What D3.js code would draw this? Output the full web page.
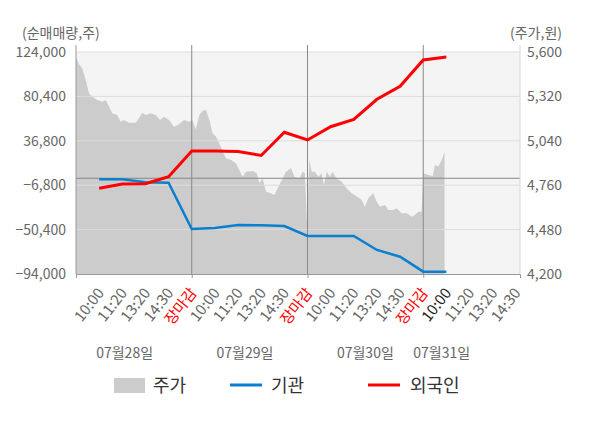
<!DOCTYPE html>
<html>
<head>
<meta charset="utf-8">
<script src="https://cdn.jsdelivr.net/npm/d3@7"></script>
<style>
  body { margin: 0; background: #fff; }
  svg { font-family: "Noto Sans CJK KR", "Noto Sans", sans-serif; }
</style>
</head>
<body>
<svg id="chart" width="600" height="428"></svg>
<script>
// slots per day on the category axis
const timeSlots = ['10:00', '11:20', '13:20', '14:30', '장마감'];
const days = ['07월28일', '07월29일', '07월30일', '07월31일'];

const leftTicks = [124000, 80400, 36800, -6800, -50400, -94000];
const rightTicks = [5600, 5320, 5040, 4760, 4480, 4200];

// net buying (shares), one value per slot from day 1 10:00
const institution = [-1000, -1000, -4000, -4300, -49800,
  -48800, -45900, -46200, -46900, -56700,
  -56700, -56700, -70400, -77000, -91700,
  -91700];
const foreign = [-9850, -5600, -5300, 1550, 26800,
  26800, 26300, 22400, 45150, 37600,
  50650, 57900, 77550, 90300, 116150,
  119100];

// stock price (won): slot position, price
const pricePos = [0, 0.13, 0.27, 0.42, 0.56, 0.70, 0.92, 1.14, 1.28, 1.43,
  1.57, 1.78, 1.93, 2.07, 2.29, 2.58, 2.72, 2.86, 3.01, 3.23,
  3.44, 3.63, 3.80, 4.02, 4.23, 4.41, 4.67, 4.88, 5.02, 5.17,
  5.33, 5.47, 5.62, 5.76, 5.90, 6.05, 6.19, 6.34, 6.48, 6.70,
  6.91, 7.05, 7.20, 7.34, 7.63, 7.81, 7.92, 8.06, 8.21, 8.42,
  8.57, 8.71, 8.93, 9.07, 9.29, 9.43, 9.65, 9.79, 9.89, 9.97,
  10.08, 10.18, 10.32, 10.47, 10.61, 10.71, 10.83, 10.97, 11.07, 11.26,
  11.48, 11.69, 11.91, 12.13, 12.34, 12.48, 12.63, 12.84, 12.99, 13.13,
  13.35, 13.49, 13.71, 13.85, 14.07, 14.29, 14.50, 14.64, 14.79, 14.93,
  15.00, 15.22, 15.41, 15.51, 15.65, 15.80, 15.92];
const priceVal = [5568, 5524, 5497, 5423, 5340, 5318, 5297, 5287, 5297, 5255,
  5213, 5203, 5160, 5171, 5154, 5154, 5182, 5217, 5203, 5213,
  5203, 5171, 5192, 5171, 5129, 5140, 5171, 5160, 5171, 5113,
  5203, 5230, 5234, 5171, 5087, 5066, 5024, 4971, 4930, 4919,
  4898, 4856, 4814, 4845, 4850, 4835, 4772, 4804, 4719, 4709,
  4698, 4740, 4804, 4845, 4867, 4814, 4804, 4845, 4835, 4530,
  4919, 4845, 4845, 4814, 4835, 4761, 4845, 4814, 4845, 4804,
  4782, 4740, 4709, 4688, 4667, 4624, 4677, 4709, 4656, 4624,
  4635, 4604, 4604, 4614, 4583, 4583, 4561, 4572, 4593, 4593,
  4835, 4824, 4818, 4887, 4877, 4919, 4971];

const dayLabelAt = [2.1, 7.3, 12.5, 15.8];

const svg = d3.select('#chart');
const plotL = 76, plotR = 520, plotT = 52, plotB = 274;
const grey = '#666';

const x = d3.scaleLinear().domain([0, 19.18]).range([plotL, plotR]);
const yL = d3.scaleLinear().domain([-94000, 124000]).range([plotB, plotT]);
const yR = d3.scaleLinear().domain([4200, 5600]).range([plotB, plotT]);

svg.append('rect')
  .attr('x', plotL).attr('y', plotT)
  .attr('width', plotR - plotL).attr('height', plotB - plotT)
  .attr('fill', '#f4f4f4');

// price area
const priceData = pricePos.map((p, i) => [p, priceVal[i]]);
svg.append('path')
  .datum(priceData)
  .attr('fill', '#cccccc')
  .attr('d', d3.area()
    .x(d => x(d[0]))
    .y0(yR(4200))
    .y1(d => yR(d[1])));

// grid
svg.append('g')
  .selectAll('line')
  .data(leftTicks.slice(0, -1))
  .enter().append('line')
  .attr('x1', plotL).attr('x2', plotR)
  .attr('y1', d => yL(d)).attr('y2', d => yL(d))
  .attr('stroke', '#dddddd');

svg.append('line')
  .attr('x1', plotL).attr('x2', plotR)
  .attr('y1', yL(0)).attr('y2', yL(0))
  .attr('stroke', '#888');

svg.append('g')
  .selectAll('line')
  .data([5, 10, 15])
  .enter().append('line')
  .attr('x1', d => x(d)).attr('x2', d => x(d))
  .attr('y1', 45).attr('y2', plotB)
  .attr('stroke', '#888');

svg.append('line')
  .attr('x1', plotL).attr('x2', plotL)
  .attr('y1', 45).attr('y2', plotB)
  .attr('stroke', '#999');
svg.append('line')
  .attr('x1', plotR).attr('x2', plotR)
  .attr('y1', 45).attr('y2', plotB)
  .attr('stroke', '#d8d8d8');

// axes
const gl = svg.append('g')
  .attr('transform', `translate(${plotL},0)`)
  .call(d3.axisLeft(yL).tickValues(leftTicks).tickSize(0).tickPadding(10).tickFormat(d3.format(',')));
const gr = svg.append('g')
  .attr('transform', `translate(${plotR},0)`)
  .call(d3.axisRight(yR).tickValues(rightTicks).tickSize(0).tickPadding(7).tickFormat(d3.format(',')));
[gl, gr].forEach(g => {
  g.select('.domain').remove();
  g.selectAll('text').attr('fill', grey).style('font-size', '14px');
  g.attr('font-family', null);
});

const gb = svg.append('g')
  .attr('transform', `translate(0,${plotB})`)
  .call(d3.axisBottom(x).tickValues([0, 5, 10, 15]).tickSize(4).tickFormat(''));
gb.select('.domain').attr('stroke', '#999');
gb.selectAll('line').attr('stroke', '#999');

const slotIdx = d3.range(1, 20);
const gt = svg.append('g')
  .attr('transform', `translate(0,${plotB})`)
  .call(d3.axisBottom(x).tickValues(slotIdx).tickSize(0)
    .tickFormat(i => timeSlots[(i - 1) % 5]));
gt.attr('font-family', null);
gt.select('.domain').remove();
gt.selectAll('text')
  .style('font-size', '15px')
  .attr('text-anchor', 'end')
  .attr('dy', '0.35em')
  .attr('y', 0)
  .attr('transform', 'translate(1,16) rotate(-52)')
  .attr('fill', i => (i - 1) % 5 === 4 ? '#ff0000' : (i === 16 ? '#222' : grey));

svg.append('g')
  .selectAll('text')
  .data(days)
  .enter().append('text')
  .attr('x', (d, i) => x(dayLabelAt[i]))
  .attr('y', 358)
  .attr('text-anchor', 'middle')
  .attr('fill', grey)
  .style('font-size', '14px')
  .text(d => d);

svg.append('text').attr('x', 22).attr('y', 38).attr('fill', grey)
  .style('font-size', '14px').text('(순매매량,주)');
svg.append('text').attr('x', 562).attr('y', 38).attr('fill', grey)
  .attr('text-anchor', 'end').style('font-size', '14px').text('(주가,원)');

// lines
const line = d3.line().x((d, i) => x(i + 1)).y(d => yL(d));
svg.append('path').datum(institution)
  .attr('fill', 'none').attr('stroke', '#0a7fce').attr('stroke-width', 2.5)
  .attr('d', line);
svg.append('path').datum(foreign)
  .attr('fill', 'none').attr('stroke', '#ff0000').attr('stroke-width', 3)
  .attr('d', line);

// legend
const legend = svg.append('g').style('font-size', '18px');
legend.append('rect').attr('x', 114).attr('y', 378).attr('width', 31).attr('height', 15).attr('fill', '#cccccc');
legend.append('text').attr('x', 153).attr('y', 392).attr('fill', '#333').text('주가');
legend.append('line').attr('x1', 230).attr('x2', 262).attr('y1', 385).attr('y2', 385)
  .attr('stroke', '#0a7fce').attr('stroke-width', 3);
legend.append('text').attr('x', 271).attr('y', 392).attr('fill', '#333').text('기관');
legend.append('line').attr('x1', 368).attr('x2', 400).attr('y1', 385).attr('y2', 385)
  .attr('stroke', '#ff0000').attr('stroke-width', 3);
legend.append('text').attr('x', 410).attr('y', 392).attr('fill', '#333').text('외국인');
</script>
</body>
</html>
